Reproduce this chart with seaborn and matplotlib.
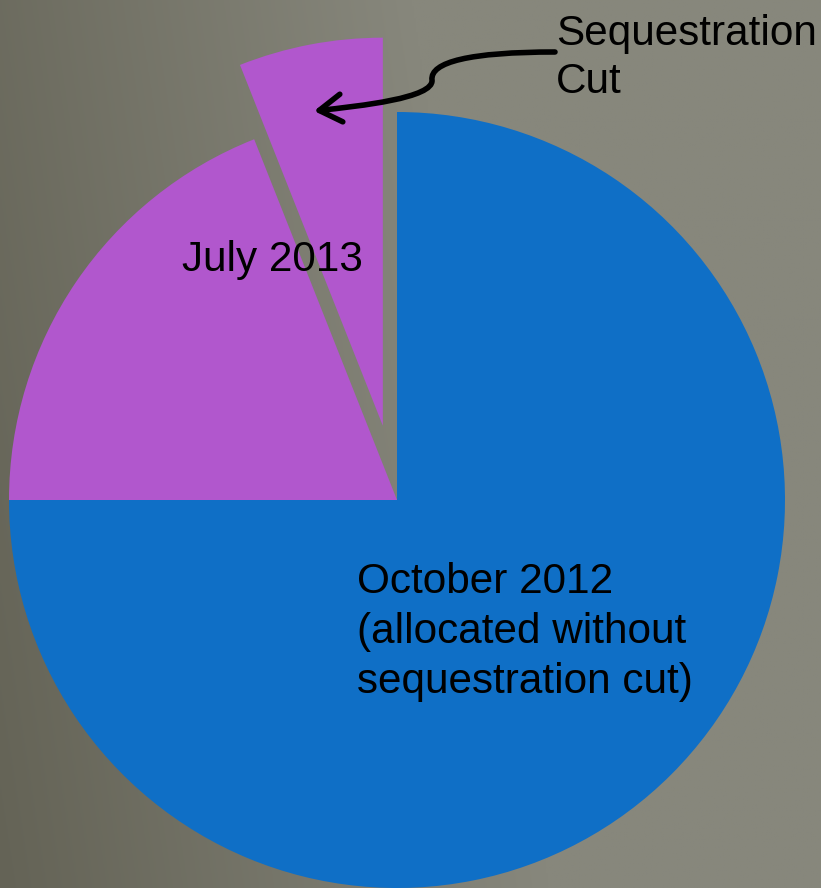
import numpy as np
import matplotlib
matplotlib.use("Agg")
import matplotlib.pyplot as plt
import seaborn as sns
from matplotlib.path import Path
from matplotlib.patches import FancyArrowPatch

# ---- data ----
categories = ["October 2012", "July 2013", "Sequestration Cut"]
values = [75, 19, 6]
explode = [0.0, 0.0, 0.195]
label_oct = "October 2012\n(allocated without\nsequestration cut)"
label_jul = "July 2013"
label_seq = "Sequestration\nCut"

sns.set_theme(style="white")
plt.rcParams['font.family'] = ['Liberation Sans', 'DejaVu Sans']

colors = ["#0f6fc6", "#b157cd", "#b157cd"]

W, H = 821, 888
fig = plt.figure(figsize=(W / 100, H / 100), dpi=100)

# background gradient
bg = fig.add_axes([0, 0, 1, 1])
xx, yy = np.meshgrid(np.linspace(0, 1, 400), np.linspace(0, 1, 440))
t = np.clip((xx * 0.9 + (1 - yy) * 0.15) / 0.6, 0, 1)
dark = np.array([100, 99, 86]) / 255
light = np.array([135, 135, 124]) / 255
img = dark[None, None, :] * (1 - t[..., None]) + light[None, None, :] * t[..., None]
bg.imshow(img, aspect="auto", extent=[0, 1, 0, 1], origin="upper")
bg.axis("off")

ax = fig.add_axes([0, 0, 1, 1])
ax.patch.set_alpha(0)
R = 388.0
cx, cy = 397.0, 500.0

def px(x, y):
    return ((x - cx) / R, (cy - y) / R)

ax.pie(values, explode=explode, colors=colors, startangle=90, counterclock=False,
       radius=1.0, wedgeprops=dict(linewidth=0))
ax.set_xlim(-cx / R, (W - cx) / R)
ax.set_ylim(-(H - cy) / R, cy / R)
ax.set_aspect("auto")
ax.axis("off")

fs = 30.4
ax.text(*px(357, 632), label_oct, ha="left", va="center", fontsize=fs, color="black", linespacing=1.33)
ax.text(*px(272, 260), label_jul, ha="center", va="center", fontsize=fs, color="black")
ax.text(*px(556, 58), label_seq, ha="left", va="center", fontsize=fs, color="black", linespacing=1.28)

verts = [px(555, 52), px(470, 52), px(430, 62), px(432, 80),
         px(434, 98), px(360, 106), px(314, 111)]
codes = [Path.MOVETO, Path.CURVE4, Path.CURVE4, Path.CURVE4,
         Path.CURVE4, Path.CURVE4, Path.CURVE4]
arrow = FancyArrowPatch(path=Path(verts, codes), arrowstyle="->,head_length=8,head_width=5",
                        color="black", linewidth=4, mutation_scale=2, capstyle="round")
ax.add_patch(arrow)

fig.savefig("out.png", dpi=100)
